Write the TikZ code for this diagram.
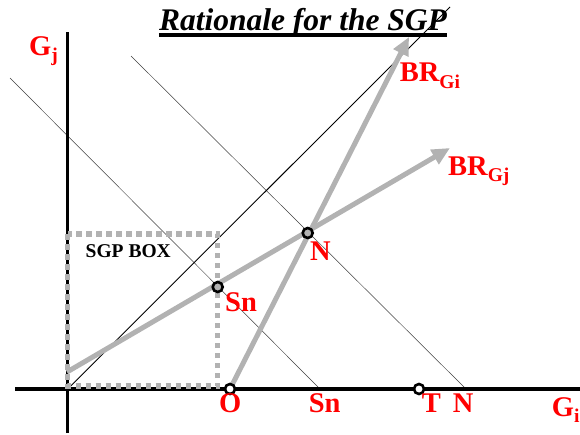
\documentclass[tikz,border=0pt]{standalone}
\usepackage{fontspec}
\setmainfont{Liberation Serif}
\usepackage{tikz}
\definecolor{brgray}{RGB}{178,178,178}
\definecolor{labred}{RGB}{255,0,0}
\usetikzlibrary{arrows.meta,positioning}
\tikzset{
    axis/.style={line width=3.2pt, black},
    isoline/.style={line width=0.5pt, black!75},
    diagline/.style={line width=0.9pt, black},
    brline/.style={line width=5pt, color=brgray, -{Triangle[length=18pt,width=16pt]}},
    sgpbox/.style={line width=5.5pt, color=brgray, dash pattern=on 5.5pt off 4.5pt},
    eqpt/.style={circle, draw=black, line width=2.6pt, minimum size=10pt, inner sep=0pt},
    lab/.style={text=labred, font=\bfseries\fontsize{28.5}{30}\selectfont, anchor=base west, inner sep=0pt},
}
\newcommand{\sublab}[2]{#1\raisebox{-6.5pt}{\fontsize{19.5}{20}\selectfont #2}}

\begin{document}
\begin{tikzpicture}[x=1pt, y=-1pt]
    \useasboundingbox (0,0) rectangle (580,434);

    % Title
    \node[anchor=base, inner sep=0pt, font=\bfseries\itshape\fontsize{31.5}{34}\selectfont] (title) at (303,30) {Rationale for the SGP};
    \draw[line width=3.2pt] ([yshift=-5pt]title.base west) -- ([yshift=-5pt]title.base east);

    % Points
    \coordinate (orig) at (67.7,389);
    \coordinate (ytop) at (67.7,32);
    \coordinate (ybot) at (67.7,433);
    \coordinate (xleft) at (15,389);
    \coordinate (xright) at (580,389);
    \coordinate (diagend) at (450,7);
    \coordinate (isoSa) at (10,78);
    \coordinate (isoSb) at (320,389);
    \coordinate (isoNa) at (131,56);
    \coordinate (isoNb) at (466,389);
    \coordinate (boxtl) at (67.7,234);
    \coordinate (boxbr) at (217.7,386);
    \coordinate (brgjstart) at (67,372);
    \coordinate (brgjtip) at (450,148);
    \coordinate (brgitip) at (409,37);

    % Iso lines and 45 degree line
    \draw[isoline] (isoSa) -- (isoSb);
    \draw[isoline] (isoNa) -- (isoNb);
    \draw[diagline] (orig) -- (diagend);

    % Axes
    \draw[axis] (xleft) -- (xright);
    \draw[axis] (ybot) -- (ytop);

    % SGP box
    \draw[sgpbox] (boxtl) rectangle (boxbr);
    \node[anchor=base west, inner sep=0pt, font=\bfseries\fontsize{19.5}{20}\selectfont] (boxlab) at (85.5,257) {SGP BOX};

    % Best response lines
    \coordinate (O) at (230,389);
    \draw[brline] (brgjstart) -- (brgjtip);
    \draw[brline] (O) -- (brgitip);
    \node[eqpt, fill=white] (Opt) at (O) {};
    \node[eqpt, fill=white] (T) at (419,389) {};
    \node[eqpt, fill=brgray] (N) at (307.7,233) {};
    \node[eqpt, fill=brgray] (Sn) at (217.7,287) {};

    % Labels
    \node[lab] (gjlab) at (29,55) {\sublab{G}{j}};
    \node[lab] (gilab) at (551.7,416) {\sublab{G}{i}};
    \node[lab] (brgilab) at (399.6,81.7) {\sublab{BR}{Gi}};
    \node[lab] (brgjlab) at (448,175) {\sublab{BR}{Gj}};
    \node[lab] (nlab) at (310,260.7) {N};
    \node[lab] (snlab) at (225,311.7) {Sn};
    \node[lab] (olab) at (219,412) {O};
    \node[lab] (snaxlab) at (308.6,412) {Sn};
    \node[lab] (tlab) at (421.7,412) {T};
    \node[lab] (naxlab) at (452.7,412) {N};
\end{tikzpicture}
\end{document}
